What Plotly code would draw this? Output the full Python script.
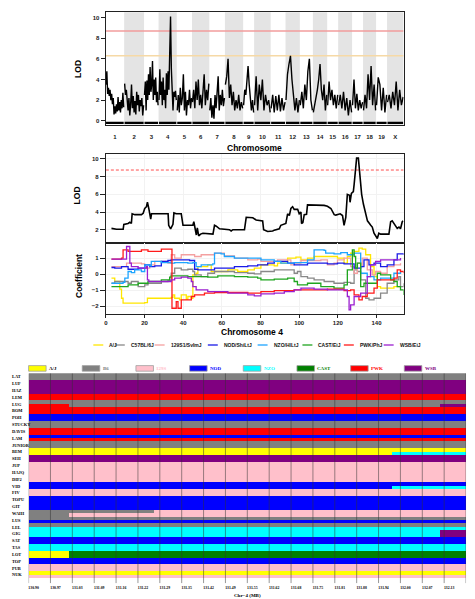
import plotly.graph_objects as go

W, H = 475, 599

# ---------------- genome-wide scan ----------------
CHR_NAMES = ["1", "2", "3", "4", "5", "6", "7", "8", "9", "10",
             "11", "12", "13", "14", "15", "16", "17", "18", "19", "X"]
CHR_LEN = [95, 102, 73, 93, 77, 88, 79, 93, 54, 84, 75, 72, 65, 72, 54, 70, 54, 65, 54, 84]
CHR_GAP = 5

LOD_C1 = [3.5, 4.8, 2.6, 3.2, 2.4, 3.0, 2.0, 2.6, 1.6, 2.2, 0.6, 1.4, 0.7, 1.6, 0.9, 2.3, 1.0, 1.8, 0.8, 2.0, 1.2, 2.7, 1.3]
LOD_C2 = [3.6, 2.5, 3.0, 1.8, 1.0, 2.2, 0.5, 1.6, 3.5, 1.2, 2.4, 0.8, 1.9, 0.6, 2.8, 1.5, 2.5, 0.9, 2.0, 1.4, 2.2, 0.5, 1.5]
LOD_C3 = [2.5, 3.8, 1.0, 3.9, 2.0, 4.5, 2.5, 5.2, 2.8, 3.5, 5.8, 2.0, 4.0, 2.5, 4.2, 1.8, 2.8, 1.5]
LOD_C4 = [2.0, 5.0, 2.5, 3.8, 1.5, 4.2, 2.0, 3.0, 1.2, 4.6, 2.5, 4.8, 3.0, 6.0, 10.1, 5.0, 2.0, 1.0, 2.8, 2.3, 2.9, 2.0]
LOD_C5 = [1.0, 2.5, 0.8, 3.2, 1.5, 2.2, 4.5, 1.0, 2.8, 0.5, 2.0, 1.5, 3.0, 1.2, 2.2]
LOD_C6 = [1.8, 3.0, 1.2, 3.8, 2.0, 4.0, 1.5, 2.5, 1.2, 3.5, 4.5, 1.5, 3.0, 2.0, 3.6]
LOD_C7 = [1.0, 2.2, 0.3, 1.5, 0.2, 2.5, 1.2, 3.0, 4.3, 1.0, 2.5, 1.5, 3.0, 1.4, 2.2]
LOD_C8 = [3.5, 4.3, 6.0, 2.2, 3.5, 1.5, 2.8, 1.0, 2.0, 1.2, 2.5, 1.0, 1.8, 1.2]
LOD_C9 = [1.5, 3.0, 2.5, 4.0, 5.3, 3.5, 2.0, 1.0, 2.0, 0.8]
LOD_C10 = [1.5, 4.3, 1.0, 3.5, 2.0, 4.0, 1.0, 2.5, 1.5, 2.0, 0.8]
LOD_C11 = [1.2, 2.5, 0.8, 2.4, 1.0, 2.5, 0.9, 2.2, 1.0, 1.8]
LOD_C12 = [2.0, 4.5, 5.5, 6.3, 4.0, 2.0, 1.0, 2.2, 0.8, 2.0]
LOD_C13 = [1.5, 2.8, 1.2, 3.5, 2.0, 4.8, 6.0, 2.0, 1.0]
LOD_C14 = [0.8, 1.5, 2.0, 3.0, 4.0, 5.5, 3.0, 2.0, 3.5, 1.0, 2.5]
LOD_C15 = [1.5, 3.8, 2.0, 3.0, 1.5, 2.5, 1.2, 2.5]
LOD_C16 = [1.5, 2.5, 1.2, 2.8, 1.0, 2.2, 0.5, 2.0, 0.8]
LOD_C17 = [1.5, 4.0, 1.2, 2.6, 1.0, 2.0, 1.2, 1.8]
LOD_C18 = [1.0, 2.5, 1.2, 4.5, 2.0, 5.3, 1.5, 3.5, 1.0]
LOD_C19 = [1.5, 4.2, 3.5, 1.0, 3.2, 0.8, 2.5]
LOD_CX = [1.8, 2.5, 1.2, 2.8, 1.5, 3.8, 1.0, 3.0, 1.5, 2.3]
GENOME_LOD = [LOD_C1, LOD_C2, LOD_C3, LOD_C4, LOD_C5, LOD_C6, LOD_C7, LOD_C8, LOD_C9, LOD_C10,
              LOD_C11, LOD_C12, LOD_C13, LOD_C14, LOD_C15, LOD_C16, LOD_C17, LOD_C18, LOD_C19, LOD_CX]
THRESH_HI = 8.7
THRESH_LO = 6.3

# ---------------- chromosome 4 detail ----------------
CHR4_POS = [2.9, 5.5, 8.95, 9.3, 11.5, 12.4, 13.2, 13.6, 15.0, 18.4, 19.3, 20.1, 21.0, 21.5, 22.2, 22.7, 23.2, 23.6,
            24.4, 32.2, 32.5, 33.5, 34.7, 35.2, 36.4, 39.0, 39.9, 45.0, 45.5, 46.2, 46.8, 47.3, 48.0, 49.0, 50.2,
            55.4, 56.2, 57.1, 58.8, 63.9, 64.8, 65.7, 71.7, 72.6, 76.0, 77.7, 81.1, 81.6, 83.7, 86.3, 87.1, 89.7,
            90.5, 93.1, 94.0, 94.9, 95.7, 96.6, 97.4, 99.2, 100.0, 100.9, 101.2, 101.9, 102.6, 103.8, 104.3, 112.9,
            114.6, 116.4, 117.2, 118.1, 118.9, 120.6, 121.2, 122.4, 123.2, 124.1, 124.6, 124.9, 126.0, 126.3, 127.0,
            128.0, 128.4, 129.2, 129.7, 130.6, 131.3, 132.3, 133.2, 134.4, 135.3, 137.0, 137.8, 138.7, 139.5, 140.4,
            141.2, 142.1, 146.4, 147.3, 148.1, 149.0, 149.8, 150.7, 151.6, 152.4, 153.3, 153.8]
CHR4_LOD = [2.15, 2.05, 2.05, 2.6, 2.7, 2.85, 2.7, 3.8, 3.7, 3.7, 3.85, 4.4, 4.6, 5.1, 4.4, 3.7, 3.2, 3.8,
            3.8, 3.8, 2.5, 2.1, 2.6, 3.9, 3.8, 3.8, 2.5, 2.5, 2.9, 1.9, 1.4, 2.2, 1.3, 1.5, 1.6,
            1.5, 2.5, 2.4, 2.1, 2.0, 1.85, 2.0, 2.0, 3.4, 3.35, 3.1, 3.0, 2.0, 1.8, 1.85, 1.95, 2.1,
            2.5, 2.7, 3.8, 3.6, 4.4, 4.6, 4.3, 4.3, 3.8, 4.0, 2.7, 2.8, 3.7, 3.75, 4.8, 4.75,
            4.65, 4.4, 4.0, 3.7, 3.65, 3.75, 3.8, 3.6, 2.5, 3.4, 4.7, 6.0, 5.9, 5.1, 6.1,
            6.3, 7.1, 9.0, 10.1, 10.1, 8.3, 6.0, 4.9, 3.8, 3.0, 2.5, 2.3, 1.6, 1.3, 1.0,
            1.6, 1.5, 1.5, 2.9, 3.0, 2.7, 2.5, 2.15, 2.3, 2.1, 2.9, 3.0]
CHR4_THRESH = 8.75

# founder coefficients (position Mb, coefficient)
AJ_POS = [2.9, 4.6, 7.2, 8.1, 8.9, 14.1, 20.1, 21.5, 28.7, 33.8, 34.7, 35.6, 38.1, 39.0, 41.6, 42.4, 44.2, 45.0, 46.7, 47.6,
          51.0, 52.7, 54.5, 59.6, 63.1, 68.2, 73.4, 76.8, 80.2, 83.7, 87.1, 88.8, 94.0, 98.3, 100.9, 104.3, 107.7, 114.6,
          119.8, 123.2, 124.9, 126.6, 128.4, 130.9, 132.6, 134.4, 136.9, 138.7, 140.4, 142.1, 147.3, 149.0, 152.4]
AJ_COEF = [-0.25, -0.46, -0.94, -1.51, -1.82, -1.82, -1.78, -1.51, -1.51, -1.45, -1.30, -1.51, -1.61, -1.30, -1.57, -1.40,
           -1.51, -0.04, 0.06, 0.48, 0.48, 0.59, 0.17, 0.17, 0.27, 0.17, 0.27, 0.38, 0.59, 0.59, 0.52, 0.69, 1.01, 1.07,
           0.90, 1.01, 1.11, 1.11, 1.01, 0.69, 1.11, 1.32, 1.43, 1.64, 1.57, 1.22, 0.48, -0.15, -0.78, -0.88, -0.88,
           -0.78, -0.78]
B6_POS = [2.9, 4.6, 11.5, 13.2, 16.7, 20.1, 21.8, 28.7, 32.1, 33.8, 35.6, 39.0, 42.4, 45.0, 45.9, 49.3, 52.7, 56.2, 66.5,
          73.4, 76.8, 80.2, 87.1, 94.0, 97.4, 99.1, 100.9, 104.3, 107.7, 112.9, 118.0, 123.2, 126.6, 128.4, 130.1, 131.8,
          134.4, 136.1, 138.7, 142.1, 145.5, 149.0, 151.5, 152.4, 154.1]
B6_COEF = [-0.57, -0.46, -0.57, -0.46, -0.78, -0.67, -0.57, -0.46, -0.40, 0.06, 0.38, 0.27, 0.31, 0.17, -0.04, -0.15,
           0.06, 0.17, 0.10, 0.06, 0.02, 0.17, 0.27, 0.27, 0.06, 0.17, -0.15, -0.25, -0.36, -0.46, -0.57, -0.52, -0.57,
           0.27, 0.17, -0.36, -1.51, -1.61, -1.51, -1.19, -0.57, -0.36, -0.15, -0.78, -0.57]
S129_POS = [2.9, 9.8, 10.7, 18.4, 20.1, 22.7, 25.3, 28.7, 32.1, 33.8, 35.6, 39.0, 44.2, 45.9, 49.3, 56.2, 61.3, 66.5,
            73.4, 78.5, 80.2, 88.8, 95.7, 97.4, 100.9, 111.2, 114.6, 118.0, 119.8, 123.2, 126.6, 128.4, 130.1, 131.8,
            132.6, 135.2, 137.8, 139.5, 142.1, 145.5, 149.0, 152.4]
S129_COEF = [0.48, 0.48, 0.69, 0.65, 0.38, 0.59, 0.80, 0.80, 0.69, 1.22, 1.01, 1.22, 1.22, 1.11, 1.22, 1.32, 1.15, 1.01,
             0.90, 0.94, 0.80, 0.90, 0.59, 0.69, 0.86, 0.90, 0.59, 0.69, 0.90, 1.01, 0.48, 0.06, 0.69, 0.48, 1.01, 0.27,
             -0.04, 0.17, 0.06, 0.48, 0.59, 0.69]
NOD_POS = [2.9, 4.6, 8.1, 11.5, 16.7, 20.1, 22.7, 25.3, 28.7, 32.1, 33.8, 37.3, 43.3, 45.9, 47.6, 52.7, 56.2, 63.1, 66.5,
           73.4, 78.5, 83.7, 87.1, 94.0, 97.4, 104.3, 111.2, 114.6, 119.8, 123.2, 128.4, 131.8, 133.5, 136.1, 138.7,
           142.1, 145.5, 149.0, 150.7, 154.1]
NOD_COEF = [0.42, 0.38, 0.48, 0.31, 0.38, 0.59, 0.48, 0.52, 0.80, 0.86, 0.90, 0.90, 0.86, 0.31, 0.27, 0.27, 0.38, 0.38,
            0.48, 0.52, 0.59, 0.69, 0.80, 0.69, 0.59, 0.69, 0.69, 0.65, 0.69, 0.65, 0.38, 0.48, 0.90, 0.59, 0.69, 0.48,
            0.59, 0.90, 1.28, 1.22]
NZO_POS = [2.9, 8.9, 9.8, 11.5, 13.2, 14.9, 18.4, 20.1, 22.7, 23.5, 28.7, 33.8, 35.6, 42.4, 45.0, 46.7, 49.3, 55.3, 56.2,
           59.6, 61.3, 66.5, 73.4, 80.2, 87.1, 90.5, 97.4, 104.3, 107.7, 112.9, 113.7, 118.0, 121.5, 124.9, 128.4,
           131.8, 135.2, 138.7, 142.1, 149.0, 152.4]
NZO_COEF = [-0.57, -0.52, -0.25, 0.17, 0.10, 0.27, 0.17, 0.59, 0.52, 0.80, 0.73, 0.69, 0.73, 0.69, 0.73, 0.48, 0.59,
            0.65, 1.32, 1.28, 1.11, 1.01, 1.01, 0.90, 0.80, 0.69, 0.73, 0.90, 1.53, 1.49, 1.32, 1.28, 1.36, 1.22, 1.32,
            0.06, -0.15, -0.36, -0.25, 0.06, 0.17]
CAST_POS = [2.9, 9.8, 11.5, 16.7, 21.8, 28.7, 33.0, 33.8, 42.4, 47.6, 52.7, 57.9, 66.5, 73.4, 78.5, 80.2, 87.1, 94.0,
            97.4, 99.1, 104.3, 111.2, 118.0, 123.2, 124.9, 127.5, 128.4, 129.2, 130.1, 131.8, 133.5, 136.9, 140.4,
            142.1, 147.3, 149.0, 150.7, 152.4, 154.1]
CAST_COEF = [-0.78, -0.78, -0.67, -0.57, -0.46, -0.36, -0.19, -0.10, -0.15, -0.15, -0.19, -0.10, -0.15, -0.19, -0.25,
             -0.36, -0.31, -0.25, -0.46, -0.67, -0.57, -0.78, -0.88, -0.67, 0.27, 1.53, 1.11, 0.38, 0.69, -0.78, -0.57,
             -0.57, 0.06, -0.04, -0.36, -0.46, -0.78, -0.99, -1.30]
PWK_POS = [2.9, 8.1, 8.9, 11.5, 18.4, 21.8, 28.7, 33.8, 34.2, 35.6, 36.4, 37.3, 39.0, 44.2, 45.9, 51.0, 56.2, 66.5, 73.4,
           80.2, 87.1, 97.4, 104.3, 114.6, 123.2, 126.6, 128.4, 130.9, 132.6, 135.2, 138.7, 140.4, 142.1, 149.0, 150.7,
           152.4, 154.1]
PWK_COEF = [0.94, 1.01, 1.53, 1.43, 1.53, 1.43, 1.57, 1.57, -2.14, -2.14, -1.72, -2.14, -1.61, -1.40, -1.30, -1.19,
            -1.15, -1.15, -1.19, -1.09, -1.03, -0.99, -0.99, -0.94, -1.03, -0.99, -1.30, -1.61, -1.40, -1.19, -0.88,
            -0.36, -0.36, -0.25, 0.27, 0.17, 0.06]
WSB_POS = [2.9, 9.8, 10.7, 12.4, 13.2, 16.7, 21.0, 21.5, 22.2, 28.7, 33.8, 35.6, 39.0, 42.4, 44.2, 45.0, 46.7, 52.7,
           63.1, 73.4, 76.8, 80.2, 87.1, 92.3, 97.4, 100.9, 107.7, 114.6, 121.5, 124.9, 125.8, 126.6, 128.4, 131.8,
           135.2, 136.9, 139.5, 142.1, 149.0, 152.4]
WSB_COEF = [0.94, 0.94, 1.74, 0.69, 0.48, 0.38, 0.48, -0.36, -0.46, -0.46, -0.36, -0.25, -0.19, -0.25, -0.46, -0.78,
            -0.99, -1.09, -1.19, -1.30, -1.36, -1.24, -1.19, -1.09, -0.99, -0.88, -0.94, -0.99, -0.99, -1.40, -2.24,
            -1.93, -1.40, -1.19, -0.15, 0.59, 0.80, 0.90, 0.90, 1.01]

COEF_NAMES = ["A/J", "C57BL/6J", "129S1/SvImJ", "NOD/ShiLtJ", "NZO/HlLtJ", "CAST/EiJ", "PWK/PhJ", "WSB/EiJ"]
COEF_COLORS = ["#FFE600", "#888888", "#F4A0A0", "#1A1AE6", "#1EA5FF", "#1FA51F", "#FF1A1A", "#9B1FD0"]
COEF_SERIES = [(AJ_POS, AJ_COEF), (B6_POS, B6_COEF), (S129_POS, S129_COEF), (NOD_POS, NOD_COEF),
               (NZO_POS, NZO_COEF), (CAST_POS, CAST_COEF), (PWK_POS, PWK_COEF), (WSB_POS, WSB_COEF)]

# ---------------- haplotype mosaic ----------------
SAMPLES = ["LAT", "LUF", "HAZ", "LEM", "LUG", "BOM", "POH", "STUCKY", "DAVIS", "LAM", "JUNIOR", "BEM", "SEH", "JUP",
           "HAJQ", "DIF2", "VID", "FIV", "TOPU", "GIT", "WAHI", "LUS", "LEL", "GIG", "SAT", "TAS", "LOT", "TOP",
           "PUB", "NUK"]
HAP_FOUNDERS = ["A/J", "B6", "129S", "NOD", "NZO", "CAST", "PWK", "WSB"]
HAP_COLORS = ["#FFFF00", "#808080", "#FFC0CB", "#0000FF", "#00FFFF", "#008000", "#FF0000", "#800080"]
HAP_TEXT_COLORS = ["#000000", "#808080", "#FFC0CB", "#0000FF", "#00FFFF", "#008000", "#FF0000", "#800080"]
MB_START = 130.9
MB_END = 132.2
# each stripe: list of (founder, segment end in Mb)
HAP_TOP = [
    [("B6", 132.2)], [("WSB", 132.2)], [("WSB", 132.2)], [("PWK", 132.2)], [("B6", 132.2)],
    [("PWK", 132.2)], [("NOD", 132.2)], [("B6", 132.2)], [("PWK", 132.2)], [("NOD", 132.2)],
    [("B6", 132.2)], [("A/J", 132.2)], [("WSB", 132.2)], [("129S", 132.2)], [("129S", 132.2)],
    [("129S", 132.2)], [("NOD", 132.2)], [("129S", 132.2)], [("NOD", 132.2)], [("NOD", 132.2)],
    [("B6", 131.27), ("129S", 132.2)], [("B6", 132.2)], [("B6", 132.2)], [("NZO", 132.12), ("WSB", 132.2)],
    [("NOD", 132.2)], [("NZO", 132.2)], [("A/J", 131.02), ("CAST", 132.2)], [("NOD", 132.2)],
    [("129S", 132.2)], [("A/J", 132.2)],
]
HAP_BOTTOM = [
    [("B6", 132.2)], [("WSB", 132.2)], [("WSB", 132.2)], [("PWK", 132.2)],
    [("PWK", 131.02), ("B6", 132.12), ("WSB", 132.2)],
    [("PWK", 132.2)], [("NOD", 132.2)], [("B6", 132.2)], [("PWK", 132.2)], [("PWK", 132.2)],
    [("B6", 132.2)], [("A/J", 131.98), ("NZO", 132.2)], [("WSB", 132.2)], [("129S", 132.2)], [("129S", 132.2)],
    [("129S", 132.2)], [("NOD", 131.98), ("NZO", 132.2)], [("129S", 132.2)], [("NOD", 132.2)], [("NOD", 132.2)],
    [("B6", 131.02), ("129S", 132.2)], [("NOD", 132.2)], [("NZO", 132.2)], [("NZO", 132.12), ("WSB", 132.2)],
    [("NOD", 132.2)], [("NZO", 132.2)], [("A/J", 131.02), ("CAST", 132.2)], [("NOD", 132.2)],
    [("129S", 132.2)], [("129S", 132.2)],
]
MB_TICKS = [130.90, 130.965, 131.03, 131.095, 131.16, 131.225, 131.29, 131.355, 131.42, 131.485, 131.55,
            131.615, 131.68, 131.745, 131.81, 131.875, 131.94, 132.005, 132.07, 132.135, 132.2]
MB_TICK_TEXT = ["130.90", "130.97", "131.03", "131.09", "131.16", "131.22", "131.29", "131.35", "131.42", "131.49",
                "131.55", "131.62", "131.68", "131.75", "131.81", "131.88", "131.94", "132.00", "132.07", "132.13",
                "132.2"]

SANS = "Liberation Sans, Arial, sans-serif"
SERIF = "Liberation Serif, Times New Roman, serif"


def px_x(p):
    return p / W


def px_y(p):
    return 1 - p / H


fig = go.Figure()
shapes = []
annos = []

# ---- top panel geometry
starts, ends, centers = [], [], []
cum = 0.0
band_edges = []
for L in CHR_LEN:
    b0 = cum
    c0 = cum + CHR_GAP / 2
    c1 = c0 + L
    b1 = c1 + CHR_GAP / 2
    starts.append(c0)
    ends.append(c1)
    centers.append((c0 + c1) / 2)
    band_edges.append((b0, b1))
    cum = b1
TOTAL = cum

for i, (b0, b1) in enumerate(band_edges):
    if i % 2 == 1:
        shapes.append(dict(type="rect", xref="x", yref="y domain", x0=b0, x1=b1, y0=0, y1=1,
                           fillcolor="#E4E4E4", line=dict(width=0), layer="below"))

gx, gy = [], []
for i, vals in enumerate(GENOME_LOD):
    n = len(vals)
    for j, v in enumerate(vals):
        gx.append(starts[i] + (ends[i] - starts[i]) * j / (n - 1))
        gy.append(v)
    gx.append(None)
    gy.append(None)

fig.add_trace(go.Scatter(x=[0, TOTAL], y=[THRESH_LO, THRESH_LO], mode="lines",
                         line=dict(color="#F6D9A6", width=1.6), xaxis="x", yaxis="y", showlegend=False))
fig.add_trace(go.Scatter(x=[0, TOTAL], y=[THRESH_HI, THRESH_HI], mode="lines",
                         line=dict(color="#F29C9C", width=1.6), xaxis="x", yaxis="y", showlegend=False))
fig.add_trace(go.Scatter(x=gx, y=gy, mode="lines", line=dict(color="black", width=1.4),
                         xaxis="x", yaxis="y", showlegend=False))
rx, ry = [], []
for s, e in zip(starts, ends):
    rx += [s, e, None]
    ry += [-0.22, -0.22, None]
fig.add_trace(go.Scatter(x=rx, y=ry, mode="lines", line=dict(color="black", width=2.2),
                         xaxis="x", yaxis="y", showlegend=False))

# ---- chr4 LOD panel
fig.add_trace(go.Scatter(x=[0, 154], y=[CHR4_THRESH, CHR4_THRESH], mode="lines",
                         line=dict(color="#FF4D4D", width=1, dash="3px,2px"),
                         xaxis="x2", yaxis="y2", showlegend=False))
fig.add_trace(go.Scatter(x=CHR4_POS, y=CHR4_LOD, mode="lines", line=dict(color="black", width=1.6),
                         xaxis="x2", yaxis="y2", showlegend=False))

# ---- coefficient panel
for (pos, coef), col in zip(COEF_SERIES, COEF_COLORS):
    fig.add_trace(go.Scatter(x=pos, y=coef, mode="lines", line=dict(color=col, width=1.3, shape="hv"),
                             xaxis="x3", yaxis="y3", showlegend=False))

# coefficient legend
LEG_LINE_X = [91.7, 113.3, 153.3, 206.7, 256.7, 301.7, 343.3, 383.3]
for name, col, lx in zip(COEF_NAMES, COEF_COLORS, LEG_LINE_X):
    shapes.append(dict(type="line", xref="paper", yref="paper", x0=px_x(lx), x1=px_x(lx + 10),
                       y0=px_y(345), y1=px_y(345), line=dict(color=col, width=1.3)))
    annos.append(dict(text=name, xref="paper", yref="paper", x=px_x(lx + 14), y=px_y(345.3),
                      xanchor="left", yanchor="middle", showarrow=False,
                      font=dict(family=SANS, size=5, color="#111111", weight="bold")))

# ---- mosaic
bars = {f: dict(x=[], base=[], y=[]) for f in HAP_FOUNDERS}
for k, (top, bot) in enumerate(zip(HAP_TOP, HAP_BOTTOM)):
    for stripe, yc in ((top, k + 0.25), (bot, k + 0.75)):
        s0 = MB_START
        for f, e in stripe:
            bars[f]["x"].append(e - s0)
            bars[f]["base"].append(s0)
            bars[f]["y"].append(yc)
            s0 = e
for f, col in zip(HAP_FOUNDERS, HAP_COLORS):
    d = bars[f]
    if d["x"]:
        fig.add_trace(go.Bar(orientation="h", x=d["x"], base=d["base"], y=d["y"], width=0.5,
                             marker=dict(color=col, line=dict(width=0)), xaxis="x4", yaxis="y4",
                             showlegend=False))
NROWS = len(SAMPLES)
YMAX = NROWS + 0.73
vx, vy = [], []
for t in MB_TICKS:
    vx += [t, t, None]
    vy += [0, YMAX, None]
fig.add_trace(go.Scatter(x=vx, y=vy, mode="lines", line=dict(color="rgba(50,50,50,0.5)", width=1),
                         xaxis="x4", yaxis="y4", showlegend=False))

for k, s in enumerate(SAMPLES):
    annos.append(dict(text=s, xref="paper", yref="y4", x=px_x(8), y=k + 0.5, xanchor="left",
                      yanchor="middle", showarrow=False,
                      font=dict(family=SERIF, size=4.4, color="black", weight="bold")))

# mosaic legend
for i, (f, col, tcol) in enumerate(zip(HAP_FOUNDERS, HAP_COLORS, HAP_TEXT_COLORS)):
    x0 = 26.7 + 53.9 * i
    shapes.append(dict(type="rect", xref="paper", yref="paper", x0=px_x(x0), x1=px_x(x0 + 17.6),
                       y0=px_y(371.2), y1=px_y(365.6), fillcolor=col,
                       line=dict(color="#A0A0A0", width=0.8)))
    annos.append(dict(text=f, xref="paper", yref="paper", x=px_x(x0 + 18.6), y=px_y(368.4),
                      xanchor="left", yanchor="middle", showarrow=False,
                      font=dict(family=SERIF, size=5, color=tcol, weight="bold")))

# ---- axis titles
def title(text, x, y, size, angle=0, family=SANS):
    return dict(text=text, xref="paper", yref="paper", x=px_x(x), y=px_y(y), textangle=angle,
                xanchor="center", yanchor="middle", showarrow=False,
                font=dict(family=family, size=size, color="black", weight="bold"))


annos += [
    title("LOD", 76.7, 68.5, 8.5, -90),
    title("Chromosome", 253.7, 147.5, 8.5),
    title("LOD", 75.7, 195, 8.5, -90),
    title("Coefficient", 77.3, 276, 8.5, -90),
    title("Chromosome 4", 251, 331.7, 8.5),
    title("Chr\u22124 (MB)", 246.3, 595.7, 5, 0, SERIF),
]

tick_font = dict(family=SANS, size=6, color="#1a1a1a", weight="bold")
frame = dict(showline=True, linecolor="#222222", linewidth=1, mirror=True, zeroline=False)

fig.update_layout(
    width=W, height=H, margin=dict(l=0, r=0, t=0, b=0),
    paper_bgcolor="white", plot_bgcolor="white", showlegend=False, bargap=0, barmode="overlay",
    shapes=shapes, annotations=annos,
    xaxis=dict(domain=[px_x(104), px_x(403.3)], range=[0, TOTAL], showgrid=False,
               tickvals=centers, ticktext=CHR_NAMES, ticks="", ticklabelstandoff=6,
               tickfont=tick_font, anchor="y", **frame),
    yaxis=dict(domain=[px_y(124.7), px_y(12.3)], range=[-0.39, 10.52], showgrid=False,
               tickvals=[0, 2, 4, 6, 8, 10], ticks="outside", ticklen=4, tickcolor="#222222",
               tickfont=tick_font, anchor="x", **frame),
    xaxis2=dict(domain=[px_x(104.3), px_x(403.3)], range=[0, 154], showticklabels=False,
                showgrid=True, gridcolor="#F2F2F2", dtick=20, tick0=0, anchor="y2", **frame),
    yaxis2=dict(domain=[px_y(243.3), px_y(154.3)], range=[0.46, 10.53], tickvals=[2, 4, 6, 8, 10],
                showgrid=True, gridcolor="#F2F2F2", ticks="outside", ticklen=5, tickcolor="#222222",
                tickfont=tick_font, anchor="x2", **frame),
    xaxis3=dict(domain=[px_x(104.3), px_x(403.3)], range=[0, 154], tickvals=[0, 20, 40, 60, 80, 100, 120, 140],
                showgrid=True, gridcolor="#F2F2F2", ticks="outside", ticklen=3, tickcolor="#222222",
                tickfont=tick_font, anchor="y3", **frame),
    yaxis3=dict(domain=[px_y(314), px_y(243.3)], range=[-2.5, 1.94], tickvals=[-2, -1, 0, 1],
                showgrid=True, gridcolor="#F2F2F2", ticks="outside", ticklen=5, tickcolor="#222222",
                tickfont=tick_font, anchor="x3", **frame),
    xaxis4=dict(domain=[px_x(26.7), px_x(466)], range=[MB_START, MB_END], tickvals=MB_TICKS,
                ticktext=MB_TICK_TEXT, ticks="", showgrid=False, zeroline=False, showline=False,
                ticklabelshift=5, ticklabelstandoff=1,
                tickfont=dict(family=SERIF, size=3.8, color="black", weight="bold"), anchor="y4"),
    yaxis4=dict(domain=[px_y(583.3), px_y(373.3)], range=[YMAX, 0], showticklabels=False,
                showgrid=False, zeroline=False, showline=False, ticks="", anchor="x4"),
)

fig.write_html("out.html")
